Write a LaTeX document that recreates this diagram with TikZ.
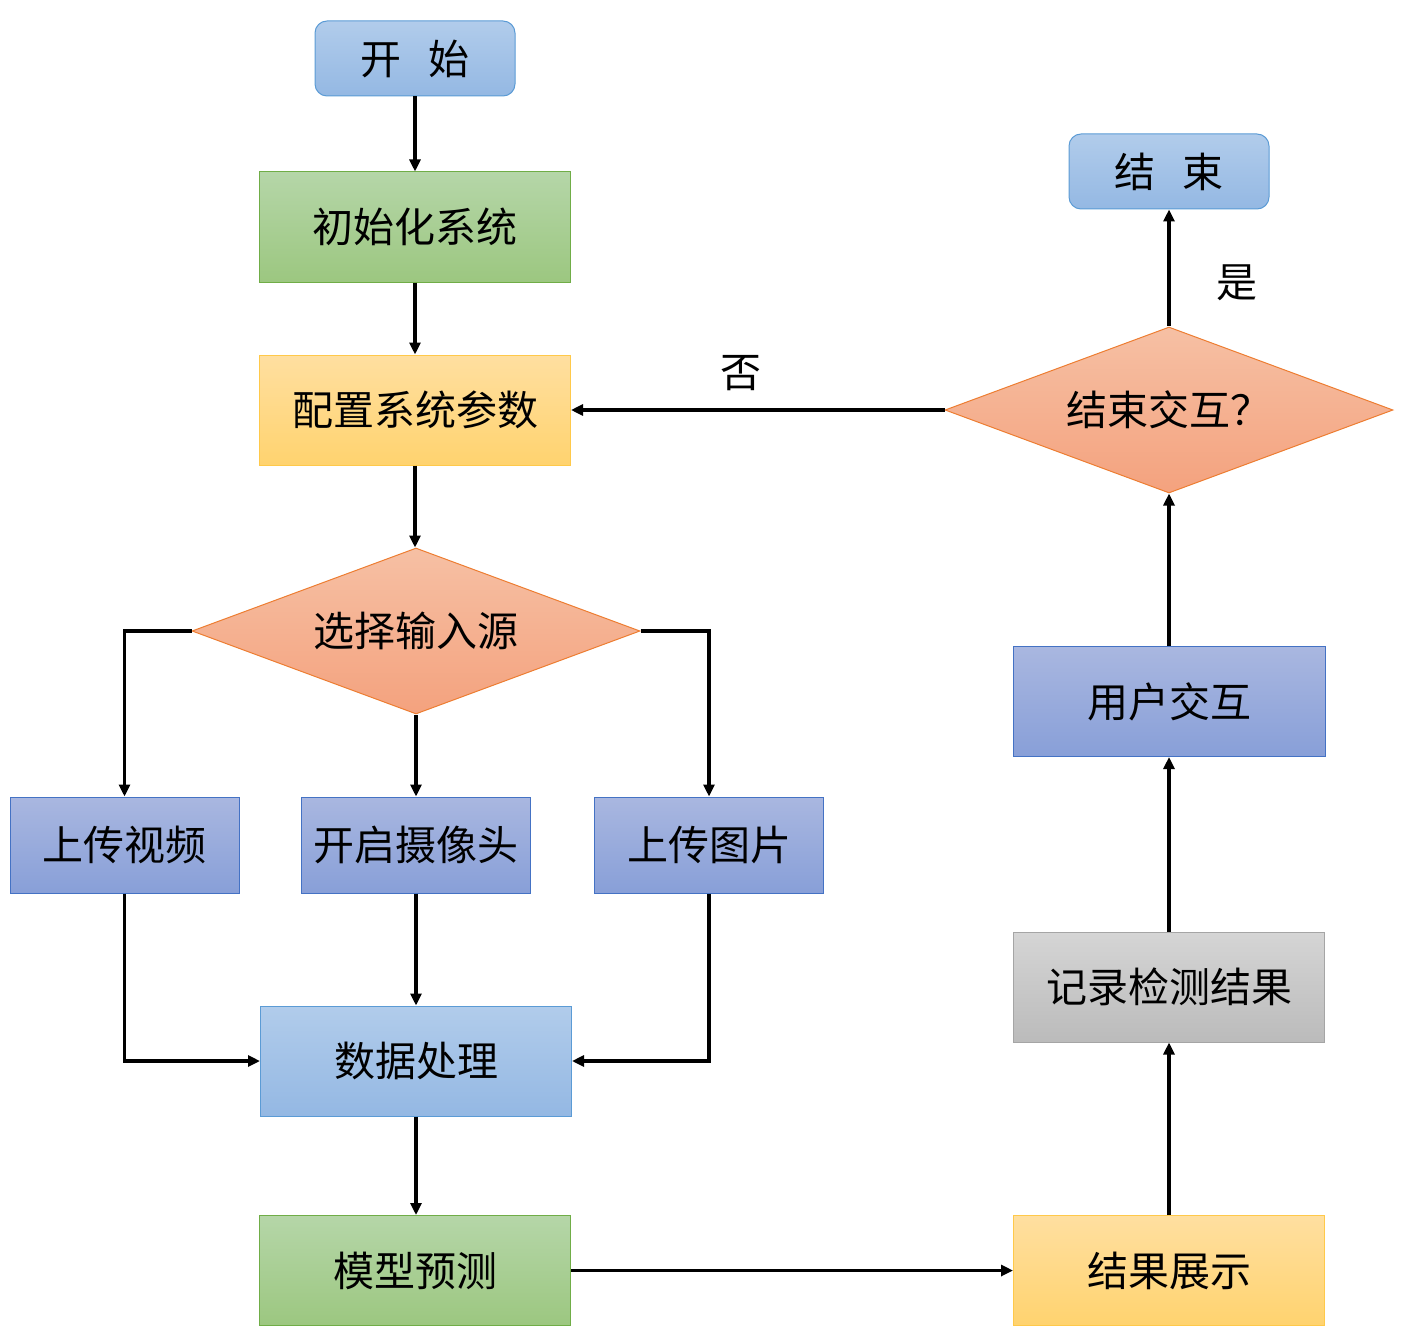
\documentclass[tikz,border=0pt]{standalone}
\usepackage{fontspec}
\newfontfamily\cjk{Noto Sans CJK SC}
\usetikzlibrary{arrows.meta}
\usetikzlibrary{shapes.geometric}
\usetikzlibrary{calc}
\usepackage{xcolor}

\definecolor{blueA}{HTML}{B1CCEB}
\definecolor{blueB}{HTML}{94B8E3}
\definecolor{blueL}{HTML}{5B9BD5}
\definecolor{greenA}{HTML}{B5D6A8}
\definecolor{greenB}{HTML}{9CC780}
\definecolor{greenL}{HTML}{70AD47}
\definecolor{yellowA}{HTML}{FFDFA0}
\definecolor{yellowB}{HTML}{FFD36F}
\definecolor{yellowL}{HTML}{FFC94A}
\definecolor{salmonA}{HTML}{F6C0A4}
\definecolor{salmonB}{HTML}{F4A27E}
\definecolor{salmonL}{HTML}{ED7D31}
\definecolor{violetA}{HTML}{A9B7E0}
\definecolor{violetB}{HTML}{889FD8}
\definecolor{violetL}{HTML}{4472C4}
\definecolor{greyA}{HTML}{D5D5D5}
\definecolor{greyB}{HTML}{BBBBBB}
\definecolor{greyL}{HTML}{A5A5A5}

\tikzset{
  every node/.style={font=\cjk\fontsize{20.5}{24}\selectfont, inner sep=0pt},
  termbox/.style={draw=blueL, line width=0.5pt, rounded corners=6pt, top color=blueA, bottom color=blueB, minimum width=100pt, minimum height=37.5pt},
  bigbox/.style={draw=#1L, line width=0.5pt, top color=#1A, bottom color=#1B, minimum width=155.5pt, minimum height=55pt},
  smallbox/.style={draw=violetL, line width=0.5pt, top color=violetA, bottom color=violetB, minimum width=114.5pt, minimum height=48pt},
  choice/.style={diamond, aspect=2.69, draw=salmonL, line width=0.5pt, top color=salmonA, bottom color=salmonB, minimum width=224pt, minimum height=83pt},
  flow/.style={line width=1.8pt, -{Triangle[length=6pt,width=5.5pt]}}
}

\begin{document}
\begin{tikzpicture}[x=0.5pt,y=-0.5pt]
\useasboundingbox (0,0) rectangle (1406,1337);
% left column
\node[termbox] (start) at (415,58.5) {开\hspace{0.65em}始};
\node[bigbox=green] (init) at (415,227) {初始化系统};
\node[bigbox=yellow] (config) at (415,410) {配置系统参数};
\node[choice] (source) at (416,631) {选择输入源};
\node[smallbox] (video) at (124.5,845) {上传视频};
\node[smallbox] (camera) at (416,845) {开启摄像头};
\node[smallbox] (image) at (709,845) {上传图片};
\node[bigbox=blue] (data) at (416,1061) {数据处理};
\node[bigbox=green] (model) at (415,1270.5) {模型预测};
% right column
\node[bigbox=yellow] (show) at (1169,1270.5) {结果展示};
\node[bigbox=grey] (record) at (1169,987) {记录检测结果};
\node[smallbox, minimum width=156pt, minimum height=55pt] (user) at (1169,701.5) {用户交互};
\node[choice] (ask) at (1169,410) {结束交互？};
\node[termbox] (stop) at (1169,171.5) {结\hspace{0.65em}束};
\node (yes) at (1237,283) {是};
\node (no) at (741,373) {否};

\draw[flow] (start) -- (init);
\draw[flow] (init) -- (config);
\draw[flow] (config.south) -- (config.south |- source.north);
\draw[flow] (source.west) -| (video.north);
\draw[flow] (source) -- (camera);
\draw[flow] (source.east) -| (image.north);
\draw[flow] (video.south) |- (data.west);
\draw[flow] (camera) -- (data);
\draw[flow] (image.south) |- (data.east);
\draw[flow] (data.south) -- (data.south |- model.north);
\draw[flow] (model) -- (show);
\draw[flow] (show) -- (record);
\draw[flow] (record) -- (user);
\draw[flow] (user) -- (ask);
\draw[flow] (ask) -- (stop);
\draw[flow] (ask) -- (config);
\end{tikzpicture}
\end{document}
